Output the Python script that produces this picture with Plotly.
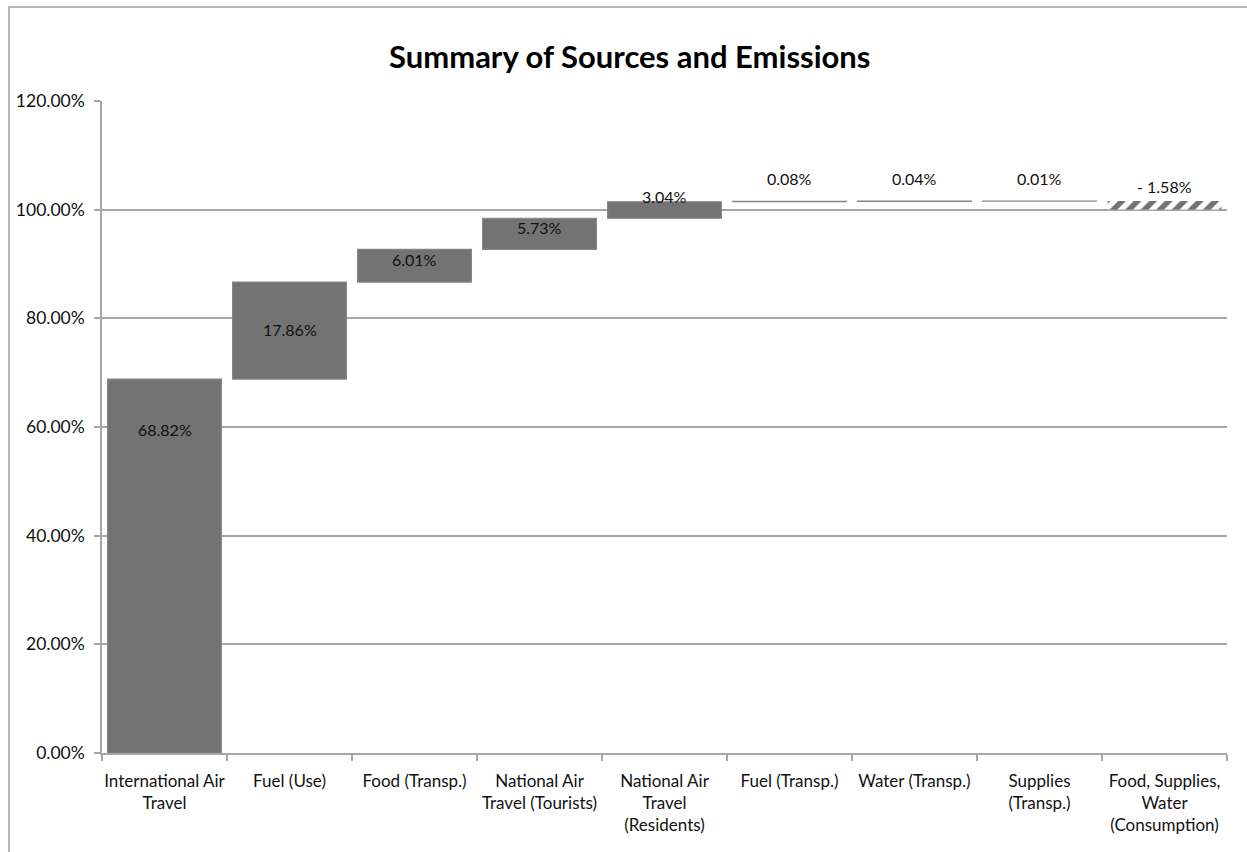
import plotly.graph_objects as go

# Contribution of each source to total emissions (percent)
categories = [
    "International Air<br>Travel",
    "Fuel (Use)",
    "Food (Transp.)",
    "National Air<br>Travel (Tourists)",
    "National Air<br>Travel<br>(Residents)",
    "Fuel (Transp.)",
    "Water (Transp.)",
    "Supplies<br>(Transp.)",
    "Food, Supplies,<br>Water<br>(Consumption)",
]
values = [68.82, 17.86, 6.01, 5.73, 3.04, 0.08, 0.04, 0.01, -1.58]

# Vertical position (in % units) of each value label
label_y = [59.6, 77.9, 90.8, 96.8, 102.4, 105.7, 105.7, 105.7, 104.2]

y_ticks = [0, 20, 40, 60, 80, 100, 120]

# Running total: each bar starts where the previous one ended
bases = []
running = 0.0
for v in values:
    bases.append(running)
    running += v

FONT = "Lato"
BAR = "#737373"
GRID = "#a6a6a6"

shapes_pattern = ["/" if v < 0 else "" for v in values]
line_widths = [0 if v < 0 else 1.2 for v in values]

fig = go.Figure()
fig.add_trace(go.Bar(
    x=categories,
    y=values,
    base=bases,
    marker=dict(
        color=BAR,
        line=dict(color="#858585", width=line_widths),
        pattern=dict(shape=shapes_pattern, fillmode="replace",
                     bgcolor="white", size=11, solidity=0.5),
    ),
    hoverinfo="skip",
    showlegend=False,
))

def fmt(v):
    return f"- {abs(v):.2f}%" if v < 0 else f"{v:.2f}%"

annotations = [
    dict(x=c, y=ly, xref="x", yref="y", text=fmt(v), showarrow=False,
         font=dict(family=FONT, size=16, color="#111111"))
    for c, v, ly in zip(categories, values, label_y)
]
annotations.append(dict(
    x=0.469, y=1.0685, xref="paper", yref="paper",
    text="<b>Summary of Sources and Emissions</b>", showarrow=False,
    font=dict(family=FONT, size=31, color="#000000"),
    xanchor="center", yanchor="middle",
))

fig.update_layout(
    width=1247, height=852,
    margin=dict(l=102, r=20, t=101, b=99),
    paper_bgcolor="white", plot_bgcolor="white",
    bargap=0.09,
    font=dict(family=FONT, size=16, color="#111111"),
    annotations=annotations,
    shapes=[dict(type="rect", xref="paper", yref="paper",
                 x0=-0.0827, x1=1.2, y0=-0.5, y1=1.144,
                 line=dict(color="#a0a0a0", width=1.5), fillcolor="rgba(0,0,0,0)",
                 layer="below")],
)
fig.update_xaxes(
    showline=True, linecolor=GRID, linewidth=1.5,
    ticks="outside", ticklen=6, tickcolor=GRID, tickwidth=1.5,
    tickson="boundaries", showgrid=False,
    tickangle=0, automargin=False,
    ticklabelstandoff=12,
    tickfont=dict(family=FONT, size=17, color="#111111"),
)
fig.update_yaxes(
    range=[0, 120], tickvals=y_ticks,
    ticktext=[f"{t:.2f}%" for t in y_ticks],
    showline=True, linecolor=GRID, linewidth=1.5,
    ticks="outside", ticklen=6, tickcolor=GRID, tickwidth=1.5,
    showgrid=True, gridcolor=GRID, gridwidth=1.5,
    zeroline=False, automargin=False,
    ticklabelstandoff=6,
    tickfont=dict(family=FONT, size=17.5, color="#111111"),
)

fig.write_html("out.html")
